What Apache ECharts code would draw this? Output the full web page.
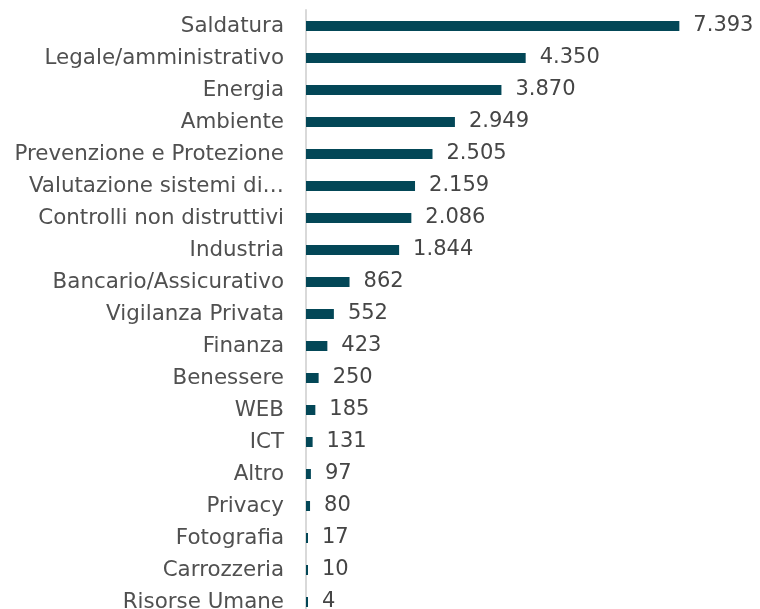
<!DOCTYPE html>
<html>
<head>
<meta charset="utf-8">
<script src="https://cdn.jsdelivr.net/npm/echarts@6/dist/echarts.min.js"></script>
<style>
    html, body { margin: 0; padding: 0; background: #fff; }
    #chart { width: 760px; height: 609px; }
</style>
</head>
<body>
<div id="chart"></div>
<script>
    // categorie dall'alto in basso
    let categorie = ['Saldatura', 'Legale/amministrativo', 'Energia', 'Ambiente', 'Prevenzione e Protezione',
        'Valutazione sistemi di…', 'Controlli non distruttivi', 'Industria', 'Bancario/Assicurativo',
        'Vigilanza Privata', 'Finanza', 'Benessere', 'WEB', 'ICT', 'Altro', 'Privacy', 'Fotografia',
        'Carrozzeria', 'Risorse Umane'];
    let valori = [7393, 4350, 3870, 2949, 2505, 2159, 2086, 1844, 862, 552, 423, 250, 185, 131, 97, 80, 17, 10, 4];

    function fmt(v) {
        return String(v).replace(/\B(?=(\d{3})+(?!\d))/g, '.');
    }

    let myChart = echarts.init(document.getElementById('chart'));
    let option = {
        backgroundColor: '#ffffff',
        animation: false,
        grid: {
            left: 306,
            top: 10,
            width: 404,
            height: 608,
            outerBoundsMode: 'none'
        },
        xAxis: {
            type: 'value',
            min: 0,
            max: 8000,
            show: false
        },
        yAxis: {
            type: 'category',
            inverse: true,
            data: categorie,
            axisLine: {
                show: true,
                lineStyle: { color: '#d9d9d9', width: 2 }
            },
            axisTick: { show: false },
            axisLabel: {
                margin: 22,
                color: '#505050',
                fontFamily: 'DejaVu Sans',
                fontSize: 21.4
            }
        },
        series: [{
            type: 'bar',
            data: valori,
            barWidth: 10,
            barMinHeight: 2,
            itemStyle: { color: '#034757' },
            label: {
                show: true,
                position: 'right',
                distance: 14,
                color: '#454545',
                fontFamily: 'DejaVu Sans',
                fontSize: 21,
                formatter: function (p) { return fmt(p.value); }
            }
        }]
    };
    myChart.setOption(option);
</script>
</body>
</html>
